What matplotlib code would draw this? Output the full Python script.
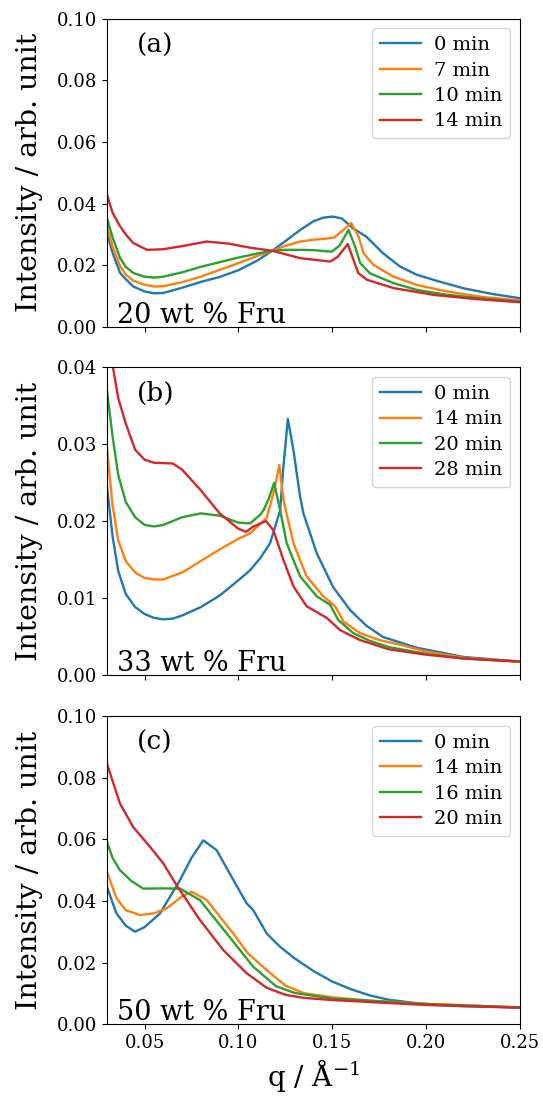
import numpy as np
import matplotlib
matplotlib.use("Agg")
import matplotlib.pyplot as plt

plt.rcParams["font.family"] = "DejaVu Serif"
plt.rcParams["mathtext.fontset"] = "dejavuserif"

# ---- panel (a): 20 wt % Fru ----
qa_blue = [0.030, 0.033, 0.037, 0.040, 0.044, 0.050, 0.055, 0.060, 0.070, 0.080, 0.090, 0.100, 0.110, 0.118,
           0.126, 0.133, 0.140, 0.145, 0.150, 0.155, 0.161, 0.168, 0.177, 0.186, 0.195, 0.207, 0.220, 0.235, 0.250]
ia_blue = [0.0304, 0.024, 0.0175, 0.0155, 0.0131, 0.0115, 0.0109, 0.011, 0.0127, 0.0146, 0.0162, 0.0184, 0.0215,
           0.0247, 0.0283, 0.0315, 0.0343, 0.0354, 0.0358, 0.0352, 0.032, 0.0293, 0.0239, 0.0196, 0.0169, 0.0147,
           0.0125, 0.0107, 0.0093]
qa_orange = [0.030, 0.033, 0.037, 0.040, 0.044, 0.050, 0.055, 0.060, 0.070, 0.080, 0.090, 0.100, 0.110, 0.118,
             0.125, 0.133, 0.140, 0.146, 0.151, 0.156, 0.160, 0.164, 0.1666, 0.172, 0.1825, 0.195, 0.211, 0.230,
             0.250]
ia_orange = [0.0326, 0.026, 0.0197, 0.0170, 0.0150, 0.0137, 0.0131, 0.0132, 0.0145, 0.0163, 0.0185, 0.0207, 0.0230,
             0.0247, 0.0263, 0.0277, 0.0283, 0.0286, 0.0290, 0.0315, 0.0337, 0.0293, 0.0239, 0.0201, 0.0163, 0.0136,
             0.0115, 0.0097, 0.0086]
qa_green = [0.030, 0.033, 0.037, 0.040, 0.044, 0.050, 0.055, 0.060, 0.070, 0.080, 0.090, 0.100, 0.110, 0.118,
            0.125, 0.133, 0.140, 0.1497, 0.154, 0.1586, 0.1621, 0.1648, 0.170, 0.1825, 0.195, 0.210, 0.230, 0.250]
ia_green = [0.0353, 0.029, 0.0223, 0.0195, 0.0175, 0.0163, 0.016, 0.0163, 0.0177, 0.0195, 0.021, 0.0225, 0.0238,
            0.0247, 0.0250, 0.0250, 0.0249, 0.0244, 0.0265, 0.0315, 0.0261, 0.0207, 0.0174, 0.0142, 0.012, 0.0105,
            0.0092, 0.0082]
qa_red = [0.030, 0.033, 0.037, 0.040, 0.044, 0.0513, 0.060, 0.070, 0.0831, 0.095, 0.1062, 0.118, 0.1328, 0.1488,
          0.153, 0.1582, 0.1612, 0.1639, 0.1684, 0.1825, 0.2038, 0.225, 0.250]
ia_red = [0.0429, 0.037, 0.0326, 0.030, 0.0272, 0.025, 0.0252, 0.0262, 0.0277, 0.0270, 0.0257, 0.0247, 0.0223,
          0.0212, 0.0228, 0.0269, 0.0218, 0.0174, 0.0153, 0.0126, 0.0104, 0.0091, 0.008]

# ---- panel (b): 33 wt % Fru ----
qb_blue = [0.030, 0.033, 0.036, 0.040, 0.045, 0.050, 0.055, 0.060, 0.065, 0.070, 0.080, 0.090, 0.100, 0.1062,
           0.1117, 0.1168, 0.1222, 0.1239, 0.1263, 0.1293, 0.1328, 0.1346, 0.1417, 0.1504, 0.1595, 0.168, 0.177,
           0.195, 0.220, 0.250]
ib_blue = [0.0245, 0.018, 0.0135, 0.0105, 0.0088, 0.0079, 0.0074, 0.0072, 0.0073, 0.0077, 0.0088, 0.0103, 0.0123,
           0.0136, 0.0152, 0.0171, 0.0214, 0.027, 0.0333, 0.0292, 0.0232, 0.0210, 0.0158, 0.0114, 0.0084, 0.0064,
           0.0049, 0.0035, 0.0023, 0.0017]
qb_orange = [0.030, 0.033, 0.036, 0.040, 0.045, 0.050, 0.055, 0.060, 0.070, 0.080, 0.090, 0.100, 0.1062, 0.115,
             0.1185, 0.1218, 0.124, 0.1293, 0.1363, 0.1452, 0.1515, 0.156, 0.1648, 0.175, 0.186, 0.200, 0.220, 0.250]
ib_orange = [0.0295, 0.022, 0.0175, 0.0148, 0.0133, 0.0126, 0.0124, 0.0124, 0.0133, 0.0148, 0.0163, 0.0177, 0.0184,
             0.0204, 0.0235, 0.0273, 0.0227, 0.0171, 0.0128, 0.0102, 0.0089, 0.0069, 0.0054, 0.0045, 0.0039, 0.003,
             0.0022, 0.0017]
qb_green = [0.030, 0.033, 0.036, 0.040, 0.045, 0.050, 0.055, 0.060, 0.070, 0.080, 0.090, 0.100, 0.1062, 0.1115,
            0.1133, 0.116, 0.119, 0.1222, 0.1257, 0.1328, 0.1417, 0.1488, 0.1532, 0.1612, 0.170, 0.180, 0.200, 0.220,
            0.250]
ib_green = [0.037, 0.031, 0.026, 0.0225, 0.0205, 0.0195, 0.0193, 0.0195, 0.0205, 0.021, 0.0207, 0.0198, 0.0197,
            0.0208, 0.0214, 0.0228, 0.0250, 0.0214, 0.0171, 0.0128, 0.0102, 0.0091, 0.0071, 0.0054, 0.0044, 0.0036,
            0.0027, 0.0021, 0.0017]
qb_red = [0.030, 0.0332, 0.036, 0.040, 0.045, 0.050, 0.055, 0.065, 0.070, 0.080, 0.090, 0.100, 0.104, 0.108, 0.1147,
          0.1186, 0.124, 0.1293, 0.1363, 0.147, 0.1541, 0.1648, 0.180, 0.200, 0.220, 0.250]
ib_red = [0.047, 0.040, 0.036, 0.0327, 0.0293, 0.028, 0.0276, 0.0275, 0.0267, 0.024, 0.021, 0.0190, 0.0186, 0.0193,
          0.0200, 0.0188, 0.0149, 0.0115, 0.0089, 0.0074, 0.0058, 0.0045, 0.0033, 0.0026, 0.0021, 0.0017]

# ---- panel (c): 50 wt % Fru ----
qc_blue = [0.030, 0.035, 0.040, 0.0449, 0.050, 0.0582, 0.0689, 0.075, 0.0813, 0.0884, 0.0973, 0.1044, 0.1079,
           0.1151, 0.122, 0.130, 0.140, 0.150, 0.160, 0.170, 0.180, 0.200, 0.220, 0.250]
ic_blue = [0.0446, 0.036, 0.032, 0.030, 0.0315, 0.0359, 0.0468, 0.054, 0.0597, 0.0565, 0.0468, 0.0392, 0.037,
           0.0294, 0.0252, 0.0213, 0.0172, 0.0138, 0.0113, 0.0093, 0.0079, 0.0064, 0.0058, 0.0054]
qc_orange = [0.030, 0.035, 0.040, 0.0476, 0.055, 0.0618, 0.070, 0.0751, 0.0831, 0.090, 0.0973, 0.1050, 0.1151,
             0.125, 0.135, 0.150, 0.170, 0.200, 0.250]
ic_orange = [0.0495, 0.041, 0.037, 0.0354, 0.036, 0.0376, 0.0415, 0.043, 0.0403, 0.0350, 0.0294, 0.0230, 0.0175,
             0.0125, 0.0100, 0.0087, 0.0076, 0.0066, 0.0054]
qc_green = [0.030, 0.033, 0.0369, 0.043, 0.0493, 0.060, 0.0689, 0.0795, 0.0938, 0.1079, 0.120, 0.130, 0.150,
            0.200, 0.250]
ic_green = [0.0592, 0.054, 0.050, 0.0465, 0.0440, 0.0441, 0.0440, 0.0403, 0.0294, 0.0186, 0.0123, 0.0101, 0.0083,
            0.0065, 0.0054]
qc_red = [0.030, 0.0369, 0.044, 0.0529, 0.060, 0.0671, 0.0795, 0.092, 0.1044, 0.115, 0.125, 0.135, 0.150, 0.200,
          0.250]
ic_red = [0.0846, 0.0717, 0.064, 0.0576, 0.0522, 0.0451, 0.0338, 0.024, 0.0165, 0.0118, 0.0095, 0.0085, 0.0078,
          0.0062, 0.0053]

panels = [
    ("(a)", "20 wt % Fru", 0.10, ["0 min", "7 min", "10 min", "14 min"],
     [(qa_blue, ia_blue), (qa_orange, ia_orange), (qa_green, ia_green), (qa_red, ia_red)]),
    ("(b)", "33 wt % Fru", 0.04, ["0 min", "14 min", "20 min", "28 min"],
     [(qb_blue, ib_blue), (qb_orange, ib_orange), (qb_green, ib_green), (qb_red, ib_red)]),
    ("(c)", "50 wt % Fru", 0.10, ["0 min", "14 min", "16 min", "20 min"],
     [(qc_blue, ic_blue), (qc_orange, ic_orange), (qc_green, ic_green), (qc_red, ic_red)]),
]
colors = ["#1f77b4", "#ff7f0e", "#2ca02c", "#d62728"]

fig = plt.figure(figsize=(5.43, 10.97), dpi=100)
boxes = [(0.197, 0.702, 0.761, 0.281), (0.197, 0.385, 0.761, 0.280), (0.197, 0.0665, 0.761, 0.2805)]

for (tag, conc, ymax, labels, curves), box in zip(panels, boxes):
    ax = fig.add_axes(box)
    for (q, inten), lab, c in zip(curves, labels, colors):
        ax.plot(q, inten, color=c, lw=1.7, label=lab)
    ax.set_xlim(0.03, 0.25)
    ax.set_ylim(0, ymax)
    ax.set_xticks([0.05, 0.10, 0.15, 0.20, 0.25])
    if ymax == 0.04:
        ax.set_yticks([0.0, 0.01, 0.02, 0.03, 0.04])
    else:
        ax.set_yticks([0.0, 0.02, 0.04, 0.06, 0.08, 0.10])
    ax.yaxis.set_major_formatter(matplotlib.ticker.FormatStrFormatter("%.2f"))
    ax.xaxis.set_major_formatter(matplotlib.ticker.FormatStrFormatter("%.2f"))
    ax.tick_params(labelsize=13)
    if tag != "(c)":
        ax.tick_params(labelbottom=False)
    ax.set_ylabel("Intensity / arb. unit", fontsize=20.5, labelpad=10)
    ax.text(0.073, 0.89, tag, transform=ax.transAxes, fontsize=19)
    ax.text(0.024, 0.012, conc, transform=ax.transAxes, fontsize=19.5)
    ax.legend(loc="upper right", fontsize=14, labelspacing=0.38, handlelength=2.1, handletextpad=0.7)

ax.set_xlabel("q / Å$^{-1}$", fontsize=20)
fig.savefig("out.png", dpi=100)
